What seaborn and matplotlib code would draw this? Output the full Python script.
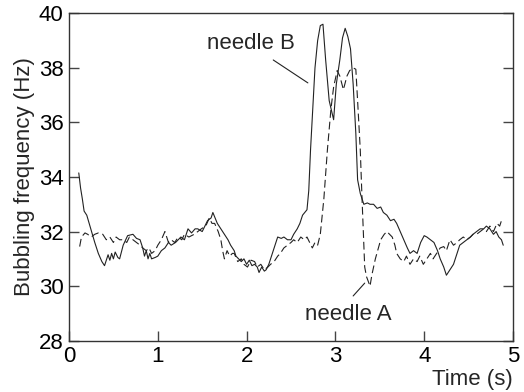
import matplotlib
matplotlib.use("Agg")
import matplotlib.pyplot as plt
import seaborn as sns
import pandas as pd

# needle B (solid line)
time_b = [0.11, 0.13, 0.15, 0.17, 0.20, 0.25, 0.29, 0.33, 0.37, 0.40, 0.42, 0.44, 0.46, 0.48, 0.50, 0.52,
          0.55, 0.57, 0.61, 0.66, 0.72, 0.76, 0.80, 0.83, 0.85, 0.87, 0.89, 0.91, 0.93, 0.97, 1.00,
          1.04, 1.08, 1.12, 1.15, 1.20, 1.26, 1.30, 1.34, 1.38, 1.42, 1.45, 1.50, 1.56, 1.60, 1.62,
          1.67, 1.71, 1.75, 1.79, 1.82, 1.86, 1.88, 1.91, 1.94, 1.97, 2.00, 2.03, 2.06, 2.09, 2.12,
          2.14, 2.17, 2.20, 2.22, 2.25, 2.27, 2.31, 2.35, 2.39, 2.42, 2.46, 2.50, 2.53, 2.57, 2.60,
          2.63, 2.68, 2.70, 2.72, 2.74, 2.77, 2.80, 2.83, 2.86, 2.89, 2.93, 2.98, 3.01, 3.05, 3.08,
          3.11, 3.14, 3.17, 3.20, 3.23, 3.25, 3.28, 3.32, 3.36, 3.39, 3.43, 3.47, 3.51, 3.54, 3.58,
          3.62, 3.66, 3.69, 3.73, 3.77, 3.81, 3.84, 3.88, 3.92, 3.96, 4.00, 4.03, 4.07, 4.11, 4.15,
          4.18, 4.22, 4.25, 4.29, 4.33, 4.37, 4.40, 4.44, 4.48, 4.52, 4.55, 4.59, 4.63, 4.67, 4.70,
          4.74, 4.78, 4.81, 4.84, 4.87, 4.89]
freq_b = [34.15, 33.6, 33.2, 32.75, 32.6, 32.05, 31.6, 31.2, 30.9, 30.75, 30.95, 31.15, 30.95, 31.2, 31.0, 31.25,
          31.05, 31.0, 31.5, 31.85, 31.9, 31.75, 31.7, 31.4, 31.1, 31.3, 31.0, 31.2, 31.0, 31.05, 31.1,
          31.3, 31.4, 31.6, 31.5, 31.6, 31.8, 31.7, 32.1, 31.95, 32.1, 32.1, 32.0, 32.4, 32.5, 32.7,
          32.3, 32.1, 31.9, 31.7, 31.5, 31.3, 31.1, 31.0, 30.9, 31.0, 30.8, 30.95, 30.75, 30.8, 30.7,
          30.5, 30.7, 30.55, 30.6, 30.8, 31.0, 31.4, 31.8, 31.75, 31.8, 31.7, 31.7, 31.9, 32.1, 32.3,
          32.6, 32.8, 33.5, 35.0, 36.2, 38.0, 39.0, 39.55, 39.6, 38.3, 36.8, 36.1, 37.4, 38.3, 39.1,
          39.45, 39.15, 38.7, 37.4, 35.6, 33.9, 33.4, 33.0, 33.05, 33.0, 33.0, 32.85, 32.9, 32.7, 32.6,
          32.4, 32.45, 32.3, 32.0, 31.7, 31.4, 31.2, 31.3, 31.2, 31.6, 31.85, 31.8, 31.7, 31.6, 31.3,
          31.0, 30.7, 30.4, 30.6, 30.8, 31.2, 31.5, 31.6, 31.7, 31.8, 31.9, 32.0, 32.1, 32.1, 32.2,
          32.1, 31.9, 32.0, 31.8, 31.7, 31.5]

# needle A (dashed line)
time_a = [0.12, 0.14, 0.18, 0.21, 0.25, 0.29, 0.33, 0.38, 0.42, 0.46, 0.50, 0.53, 0.57, 0.61, 0.65, 0.68,
          0.72, 0.76, 0.80, 0.83, 0.87, 0.90, 0.93, 0.97, 1.00, 1.04, 1.08, 1.12, 1.15, 1.19, 1.23,
          1.27, 1.30, 1.35, 1.41, 1.45, 1.49, 1.54, 1.58, 1.61, 1.64, 1.68, 1.71, 1.73, 1.75, 1.78,
          1.81, 1.84, 1.86, 1.90, 1.94, 1.97, 2.01, 2.05, 2.09, 2.12, 2.16, 2.20, 2.24, 2.27, 2.31,
          2.35, 2.38, 2.42, 2.46, 2.50, 2.53, 2.57, 2.61, 2.65, 2.68, 2.71, 2.74, 2.77, 2.80, 2.83,
          2.87, 2.91, 2.95, 2.98, 3.02, 3.05, 3.09, 3.13, 3.16, 3.20, 3.23, 3.25, 3.28, 3.30, 3.33,
          3.35, 3.39, 3.41, 3.45, 3.51, 3.55, 3.58, 3.64, 3.67, 3.69, 3.73, 3.77, 3.80, 3.84, 3.88,
          3.92, 3.95, 3.99, 4.03, 4.07, 4.10, 4.14, 4.18, 4.22, 4.25, 4.29, 4.33, 4.37, 4.40, 4.44,
          4.48, 4.52, 4.55, 4.59, 4.63, 4.67, 4.70, 4.74, 4.78, 4.82, 4.85, 4.87]
freq_a = [31.45, 31.8, 31.95, 31.9, 31.8, 31.9, 31.95, 31.9, 31.7, 31.8, 31.6, 31.8, 31.7, 31.7, 31.6, 31.8,
          31.7, 31.6, 31.5, 31.4, 31.3, 31.4, 31.2, 31.3, 31.5, 31.7, 32.0, 31.6, 31.7, 31.6, 31.8,
          31.7, 31.9, 31.8, 31.9, 32.0, 32.1, 32.2, 32.5, 32.3, 32.3, 32.0, 31.7, 31.3, 31.0, 31.3,
          31.1, 31.2, 31.2, 30.9, 31.0, 30.8, 30.7, 30.95, 30.9, 30.7, 30.8, 30.6, 30.7, 30.8, 30.9,
          31.1, 31.2, 31.4, 31.5, 31.6, 31.7, 31.6, 31.8, 31.7, 31.8, 31.6, 31.4, 31.6, 31.5, 31.9,
          33.2, 35.0, 36.5, 37.3, 37.9, 37.7, 37.2, 37.7, 37.9, 38.0, 37.95, 36.8, 35.0, 33.2, 30.7,
          30.35, 30.0, 30.4, 31.0, 31.7, 31.9, 32.0, 31.8, 31.5, 31.2, 31.0, 30.9, 31.1, 30.8, 31.0,
          30.9, 31.1, 30.8, 31.0, 31.2, 31.0, 31.2, 31.4, 31.45, 31.3, 31.7, 31.5, 31.6, 31.7, 31.8,
          31.7, 31.8, 31.9, 31.9, 32.0, 32.1, 32.0, 32.2, 32.0, 32.3, 32.2, 32.4]

x_ticks = [0, 1, 2, 3, 4, 5]
y_ticks = [28, 30, 32, 34, 36, 38, 40]

sns.set_theme(style="white")
plt.rcParams['font.family'] = ['Liberation Sans', 'DejaVu Sans']

df_b = pd.DataFrame({"t": time_b, "f": freq_b})
df_a = pd.DataFrame({"t": time_a, "f": freq_a})

FS = 16

fig = plt.figure(figsize=(5.24, 3.92), dpi=100)
ax = fig.add_axes([0.1317, 0.1309, 0.8473, 0.8351])

sns.lineplot(data=df_b, x="t", y="f", ax=ax, color="#222222", linewidth=0.8, sort=False)
sns.lineplot(data=df_a, x="t", y="f", ax=ax, color="#222222", linewidth=0.8, sort=False)
ax.lines[-1].set_dashes([7, 3.5])

ax.set_xlim(0, 5)
ax.set_ylim(28, 40)
ax.set_xticks(x_ticks)
ax.set_yticks(y_ticks)
ax.set_xticklabels([str(v) for v in x_ticks])
ax.set_yticklabels([str(v) for v in y_ticks])
ax.tick_params(axis="both", direction="in", length=7, width=1, colors="#444444",
               labelsize=FS, labelcolor="black", pad=4)
ax.tick_params(axis="y", right=True, left=True)
ax.tick_params(axis="x", bottom=True, top=False)
for s in ax.spines.values():
    s.set_color("#333333")
    s.set_linewidth(1.0)

ax.set_ylabel("Bubbling frequency (Hz)", fontsize=FS, labelpad=3)
ax.set_xlabel("")
fig.text(0.979, 0.005, "Time (s)", ha="right", va="bottom", fontsize=FS)

ax.text(2.05, 38.9, "needle B", ha="center", va="center", fontsize=FS)
ax.plot([2.30, 2.69], [38.29, 37.45], color="#222222", linewidth=0.8)
ax.text(3.14, 28.96, "needle A", ha="center", va="center", fontsize=FS)
ax.plot([3.20, 3.33], [29.64, 30.11], color="#222222", linewidth=0.8)

fig.savefig("out.png", dpi=100)
